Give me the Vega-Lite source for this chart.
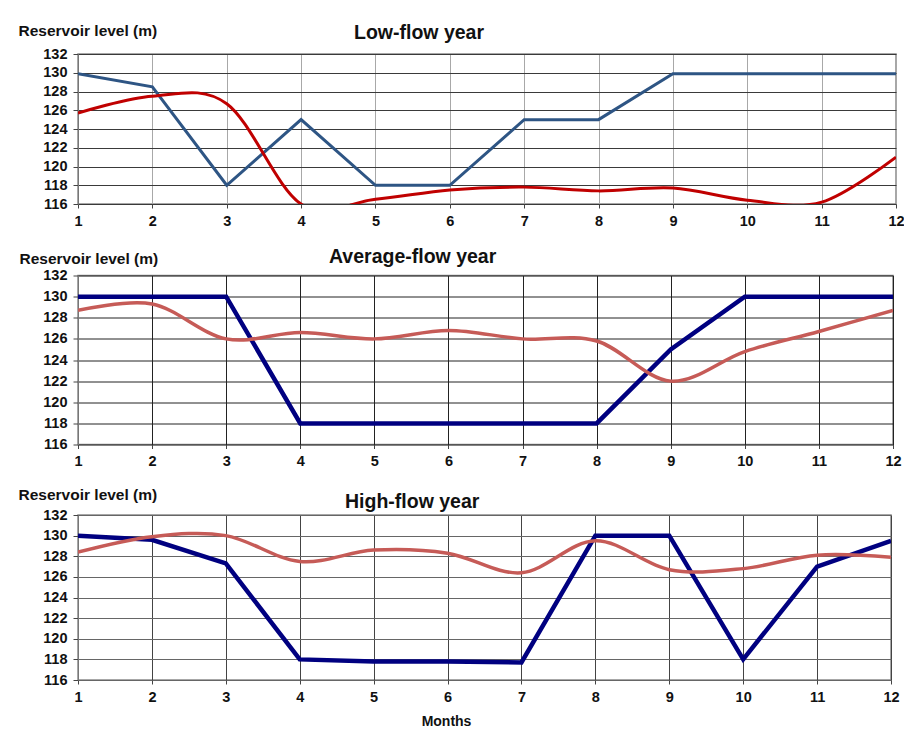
{
  "$schema": "https://vega.github.io/schema/vega-lite/v6.json",
  "background": "white",
  "padding": {"left": 17, "top": 21, "right": 5, "bottom": 0},
  "config": {
    "font": "Liberation Sans",
    "view": {"stroke": "#8a8a8a", "strokeWidth": 1.5},
    "axis": {"labelFont": "Liberation Sans", "labelFontWeight": "bold", "labelFontSize": 14.5, "labelColor": "#111", "titleFont": "Liberation Sans", "titleFontWeight": "bold", "titleFontSize": 15.5, "titleColor": "#111", "domainColor": "#777", "tickColor": "#444", "gridOpacity": 1},
    "title": {"font": "Liberation Sans", "fontSize": 19.5, "fontWeight": "bold", "color": "#111"}
  },
  "datasets": {
    "levels": [
      {"panel": "low", "series": "target", "month": 1, "level": 129.9},
      {"panel": "low", "series": "target", "month": 2, "level": 128.5},
      {"panel": "low", "series": "target", "month": 3, "level": 118},
      {"panel": "low", "series": "target", "month": 4, "level": 125},
      {"panel": "low", "series": "target", "month": 5, "level": 118},
      {"panel": "low", "series": "target", "month": 6, "level": 118},
      {"panel": "low", "series": "target", "month": 7, "level": 125},
      {"panel": "low", "series": "target", "month": 8, "level": 125},
      {"panel": "low", "series": "target", "month": 9, "level": 129.9},
      {"panel": "low", "series": "target", "month": 10, "level": 129.9},
      {"panel": "low", "series": "target", "month": 11, "level": 129.9},
      {"panel": "low", "series": "target", "month": 12, "level": 129.9},
      {"panel": "low", "series": "actual", "month": 1, "level": 125.7},
      {"panel": "low", "series": "actual", "month": 2, "level": 127.5},
      {"panel": "low", "series": "actual", "month": 3, "level": 126.7},
      {"panel": "low", "series": "actual", "month": 4, "level": 116},
      {"panel": "low", "series": "actual", "month": 5, "level": 116.5},
      {"panel": "low", "series": "actual", "month": 6, "level": 117.5},
      {"panel": "low", "series": "actual", "month": 7, "level": 117.8},
      {"panel": "low", "series": "actual", "month": 8, "level": 117.4},
      {"panel": "low", "series": "actual", "month": 9, "level": 117.7},
      {"panel": "low", "series": "actual", "month": 10, "level": 116.4},
      {"panel": "low", "series": "actual", "month": 11, "level": 116.2},
      {"panel": "low", "series": "actual", "month": 12, "level": 121},
      {"panel": "avg", "series": "target", "month": 1, "level": 130},
      {"panel": "avg", "series": "target", "month": 2, "level": 130},
      {"panel": "avg", "series": "target", "month": 3, "level": 130},
      {"panel": "avg", "series": "target", "month": 4, "level": 118},
      {"panel": "avg", "series": "target", "month": 5, "level": 118},
      {"panel": "avg", "series": "target", "month": 6, "level": 118},
      {"panel": "avg", "series": "target", "month": 7, "level": 118},
      {"panel": "avg", "series": "target", "month": 8, "level": 118},
      {"panel": "avg", "series": "target", "month": 9, "level": 125},
      {"panel": "avg", "series": "target", "month": 10, "level": 130},
      {"panel": "avg", "series": "target", "month": 11, "level": 130},
      {"panel": "avg", "series": "target", "month": 12, "level": 130},
      {"panel": "avg", "series": "actual", "month": 1, "level": 128.7},
      {"panel": "avg", "series": "actual", "month": 2, "level": 129.3},
      {"panel": "avg", "series": "actual", "month": 3, "level": 126.0},
      {"panel": "avg", "series": "actual", "month": 4, "level": 126.6},
      {"panel": "avg", "series": "actual", "month": 5, "level": 126.0},
      {"panel": "avg", "series": "actual", "month": 6, "level": 126.8},
      {"panel": "avg", "series": "actual", "month": 7, "level": 126.0},
      {"panel": "avg", "series": "actual", "month": 8, "level": 125.8},
      {"panel": "avg", "series": "actual", "month": 9, "level": 122.0},
      {"panel": "avg", "series": "actual", "month": 10, "level": 124.8},
      {"panel": "avg", "series": "actual", "month": 11, "level": 126.7},
      {"panel": "avg", "series": "actual", "month": 12, "level": 128.7},
      {"panel": "high", "series": "target", "month": 1, "level": 130},
      {"panel": "high", "series": "target", "month": 2, "level": 129.6},
      {"panel": "high", "series": "target", "month": 3, "level": 127.3},
      {"panel": "high", "series": "target", "month": 4, "level": 118},
      {"panel": "high", "series": "target", "month": 5, "level": 117.8},
      {"panel": "high", "series": "target", "month": 6, "level": 117.8},
      {"panel": "high", "series": "target", "month": 7, "level": 117.7},
      {"panel": "high", "series": "target", "month": 8, "level": 130},
      {"panel": "high", "series": "target", "month": 9, "level": 130},
      {"panel": "high", "series": "target", "month": 10, "level": 118},
      {"panel": "high", "series": "target", "month": 11, "level": 127},
      {"panel": "high", "series": "target", "month": 12, "level": 129.5},
      {"panel": "high", "series": "actual", "month": 1, "level": 128.4},
      {"panel": "high", "series": "actual", "month": 2, "level": 129.9},
      {"panel": "high", "series": "actual", "month": 3, "level": 130.0},
      {"panel": "high", "series": "actual", "month": 4, "level": 127.5},
      {"panel": "high", "series": "actual", "month": 5, "level": 128.6},
      {"panel": "high", "series": "actual", "month": 6, "level": 128.3},
      {"panel": "high", "series": "actual", "month": 7, "level": 126.4},
      {"panel": "high", "series": "actual", "month": 8, "level": 129.5},
      {"panel": "high", "series": "actual", "month": 9, "level": 126.7},
      {"panel": "high", "series": "actual", "month": 10, "level": 126.8},
      {"panel": "high", "series": "actual", "month": 11, "level": 128.1},
      {"panel": "high", "series": "actual", "month": 12, "level": 127.9}
    ]
  },
  "spacing": 16.5,
  "vconcat": [
    {
      "width": 818, "height": 150,
      "title": {"text": "Low-flow year", "anchor": "start", "frame": "group", "dx": 276, "offset": -20},
      "data": {"name": "levels"},
      "transform": [{"filter": "datum.panel === 'low'"}],
      "encoding": {
        "x": {"field": "month", "type": "quantitative", "scale": {"domain": [1, 12], "nice": false, "zero": false},
          "axis": {"values": [1,2,3,4,5,6,7,8,9,10,11,12], "title": null, "grid": true, "gridColor": "#a8a8a8", "domain": false, "ticks": true, "tickSize": 4, "labelPadding": 6, "labelFlush": false}},
        "y": {"field": "level", "type": "quantitative", "scale": {"domain": [116, 132], "nice": false, "zero": false},
          "axis": {"values": [116,118,120,122,124,126,128,130,132], "title": "Reservoir level (m)", "titleAngle": 0, "titleAlign": "left", "titleBaseline": "middle", "titleX": -60, "titleY": -24, "grid": true, "gridColor": "#3a3a3a", "tickSize": 5, "labelPadding": 6}}
      },
      "layer": [
        {"transform": [{"filter": "datum.series === 'target'"}], "mark": {"type": "line", "color": "#2E5584", "strokeWidth": 3, "clip": true}},
        {"transform": [{"filter": "datum.series === 'actual'"}], "mark": {"type": "line", "color": "#C00000", "strokeWidth": 3, "interpolate": "cardinal", "clip": true}}
      ]
    },
    {
      "width": 815, "height": 169,
      "title": {"text": "Average-flow year", "anchor": "start", "frame": "group", "dx": 251, "offset": -16},
      "data": {"name": "levels"},
      "transform": [{"filter": "datum.panel === 'avg'"}],
      "encoding": {
        "x": {"field": "month", "type": "quantitative", "scale": {"domain": [1, 12], "nice": false, "zero": false},
          "axis": {"values": [1,2,3,4,5,6,7,8,9,10,11,12], "title": null, "grid": true, "gridColor": "#222", "domain": false, "ticks": true, "tickSize": 4, "labelPadding": 6, "labelFlush": false}},
        "y": {"field": "level", "type": "quantitative", "scale": {"domain": [116, 132], "nice": false, "zero": false},
          "axis": {"values": [116,118,120,122,124,126,128,130,132], "title": "Reservoir level (m)", "titleAngle": 0, "titleAlign": "left", "titleBaseline": "middle", "titleX": -59, "titleY": -17, "grid": true, "gridColor": "#222", "tickSize": 5, "labelPadding": 6}}
      },
      "layer": [
        {"transform": [{"filter": "datum.series === 'target'"}], "mark": {"type": "line", "color": "#000080", "strokeWidth": 4.5, "clip": true}},
        {"transform": [{"filter": "datum.series === 'actual'"}], "mark": {"type": "line", "color": "#C65B57", "strokeWidth": 3.5, "interpolate": "cardinal", "clip": true}}
      ]
    },
    {
      "width": 813, "height": 165,
      "title": {"text": "High-flow year", "anchor": "start", "frame": "group", "dx": 267, "offset": -25},
      "data": {"name": "levels"},
      "transform": [{"filter": "datum.panel === 'high'"}],
      "encoding": {
        "x": {"field": "month", "type": "quantitative", "scale": {"domain": [1, 12], "nice": false, "zero": false},
          "axis": {"values": [1,2,3,4,5,6,7,8,9,10,11,12], "title": "Months", "titleX": 368, "titleY": 41, "titleAlign": "center", "titleBaseline": "middle", "titleFontSize": 14, "grid": true, "gridColor": "#444", "domain": false, "ticks": true, "tickSize": 4, "labelPadding": 6, "labelFlush": false}},
        "y": {"field": "level", "type": "quantitative", "scale": {"domain": [116, 132], "nice": false, "zero": false},
          "axis": {"values": [116,118,120,122,124,126,128,130,132], "title": "Reservoir level (m)", "titleAngle": 0, "titleAlign": "left", "titleBaseline": "middle", "titleX": -60, "titleY": -21, "grid": true, "gridColor": "#666", "tickSize": 5, "labelPadding": 6}}
      },
      "layer": [
        {"transform": [{"filter": "datum.series === 'target'"}], "mark": {"type": "line", "color": "#000080", "strokeWidth": 4.5, "clip": true}},
        {"transform": [{"filter": "datum.series === 'actual'"}], "mark": {"type": "line", "color": "#C65B57", "strokeWidth": 3.5, "interpolate": "cardinal", "clip": true}}
      ]
    }
  ]
}
